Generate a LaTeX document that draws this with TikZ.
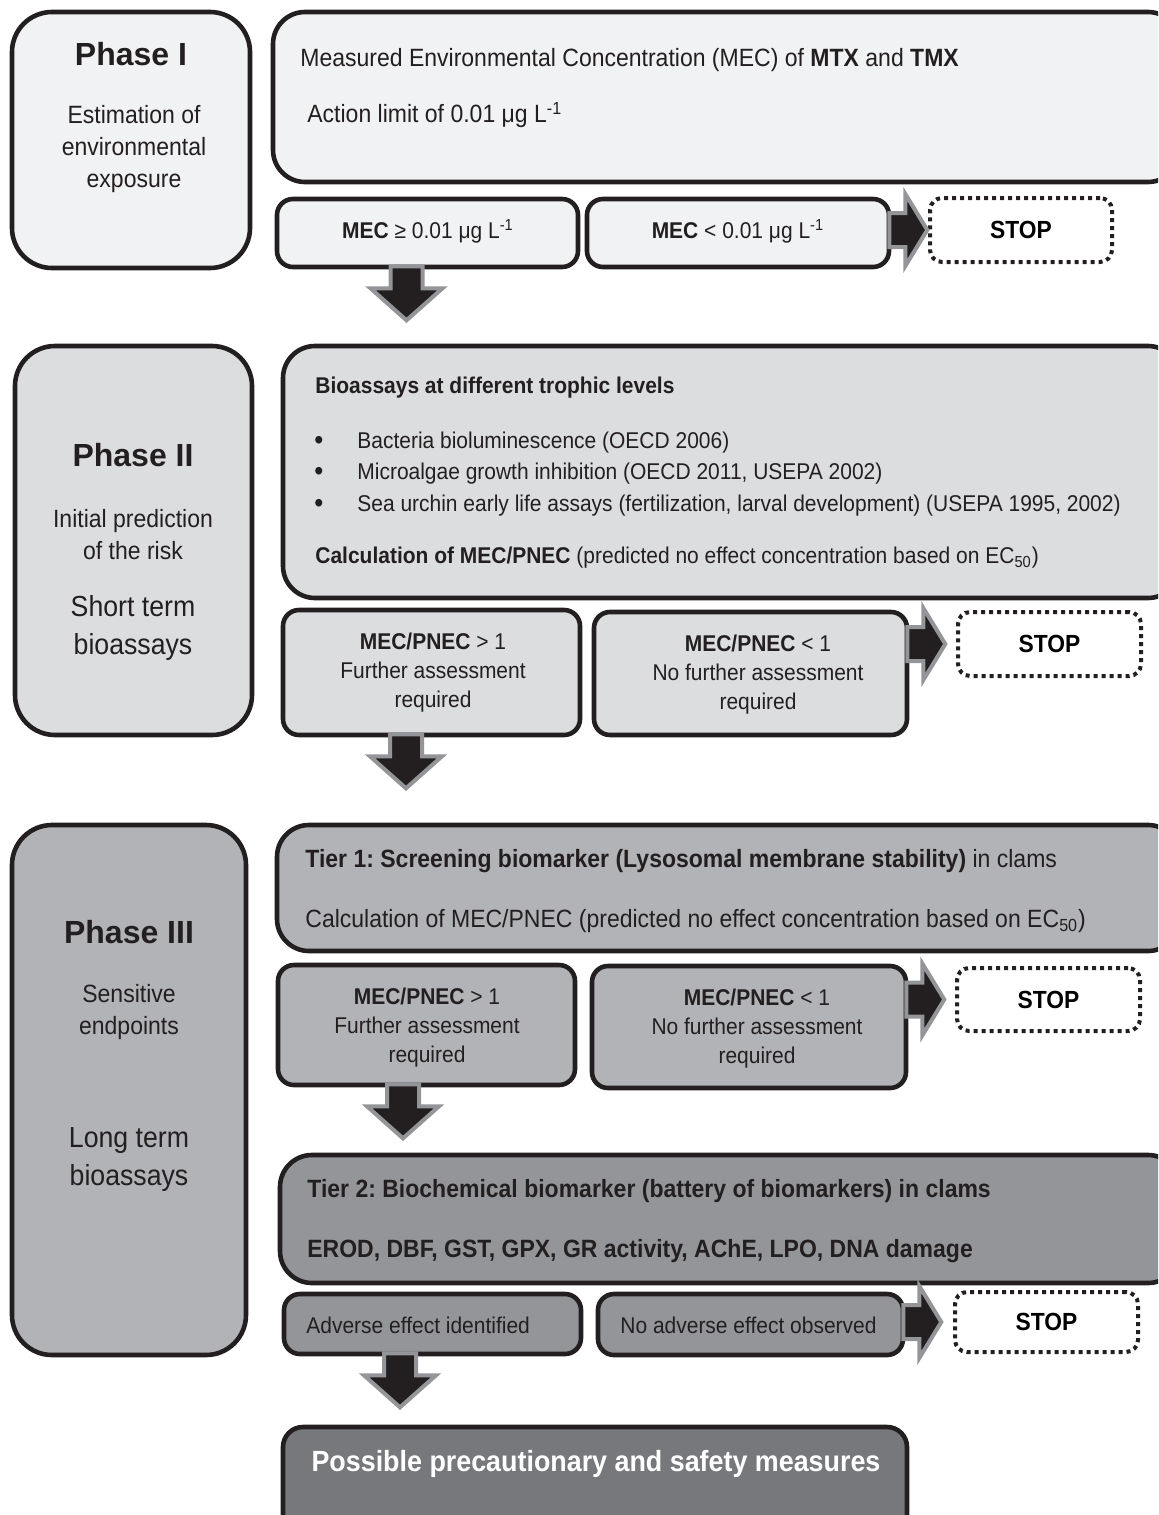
\documentclass[tikz,border=0pt]{standalone}
\usepackage{fontspec}
\setmainfont[FakeStretch=0.92]{Liberation Sans}
\newfontfamily\phasefont{Liberation Sans}
\usetikzlibrary{calc}
\frenchspacing
\definecolor{bd}{HTML}{231F20}
\definecolor{cA}{HTML}{F1F2F3}
\definecolor{cB}{HTML}{DCDDDF}
\definecolor{cC}{HTML}{B1B3B6}
\definecolor{cD}{HTML}{939598}
\definecolor{cE}{HTML}{77787B}
\definecolor{agray}{HTML}{939598}
\newcommand\fsmain{\fontsize{12.5pt}{15pt}\selectfont}
\newcommand\fsbio{\fontsize{11.4pt}{14pt}\selectfont}
\newcommand\fssmall{\fontsize{11.4pt}{14.5pt}\selectfont}
\newcommand\fsphase{\phasefont\fontsize{16pt}{19pt}\selectfont\bfseries}
\newcommand\fssub{\fontsize{12.5pt}{16pt}\selectfont}
\newcommand\fsbig{\fontsize{14.5pt}{19pt}\selectfont}
\newcommand\fsstop{\fontsize{12.4pt}{16pt}\selectfont\bfseries}
\newcommand\dnarrow[1]{\draw[fatarrow] #1 ++(-16,0) -- ++(32,0) -- ++(0,22) -- ++(20,0) -- ++(-36,32) -- ++(-36,-32) -- ++(20,0) -- cycle;}
\newcommand\rtarrow[1]{\draw[fatarrow] #1 ++(0,-17) -- ++(16,0) -- ++(0,-19) -- ++(22,36) -- ++(-22,36) -- ++(0,-19) -- ++(-16,0) -- cycle;}
\begin{document}
\begin{tikzpicture}[x=0.5pt,y=-0.5pt,
  box/.style={draw=bd, line width=2.3pt, rounded corners=8pt, inner sep=0pt, rectangle},
  bigbox/.style={box, rounded corners=16pt},
  stopbox/.style={draw=bd, line width=2pt, dash pattern=on 2pt off 2pt, rounded corners=6pt, fill=white, inner sep=0pt, rectangle, font=\fsstop},
  fatarrow/.style={fill=bd, draw=agray, line width=2pt, line join=miter},
  txt/.style={inner sep=0pt, anchor=west, text=bd, yshift=-1pt},
  ctxt/.style={inner sep=0pt, align=center, text=bd, yshift=-1pt}]
\useasboundingbox (0,0) rectangle (1158,1515);
\clip (0,0) rectangle (1158,1515);

% ---------- Phase I ----------
\node[bigbox, fill=cA, rounded corners=20pt, minimum width=119pt, minimum height=128pt] (p1) at (131,140) {};
\node[bigbox, fill=cA, minimum width=453.5pt, minimum height=85pt] (mec) at (726.5,97) {};
\node[box, fill=cA, minimum width=150.5pt, minimum height=34pt] (mecge) at (427.5,233) {};
\node[box, fill=cA, minimum width=151pt, minimum height=34pt] (meclt) at (738,233) {};
\node[stopbox, minimum width=91pt, minimum height=32pt] (stop1) at (1021,230) {STOP};

\node[ctxt, font=\fsphase] (p1t) at (131,52) {Phase I};
\node[ctxt, font=\fssub] (p1s) at (134,147) {Estimation of\\environmental\\exposure};
\node[txt, font=\fsmain] (mec1) at (300,58) {Measured Environmental Concentration (MEC) of \textbf{MTX} and \textbf{TMX}};
\node[txt, font=\fsmain] (mec2) at (307,113) {Action limit of 0.01 μg L\textsuperscript{-1}};
\node[ctxt, font=\fssmall] (mecget) at (428,229) {\textbf{MEC} ≥ 0.01 μg L\textsuperscript{-1}};
\node[ctxt, font=\fssmall] (meclet) at (738,229) {\textbf{MEC} < 0.01 μg L\textsuperscript{-1}};

\rtarrow{($(meclt.east |- stop1.west)+(-2,0)$)}
\dnarrow{($(mecge.south)+(-21,-3)$)}

% ---------- Phase II ----------
\node[bigbox, fill=cB, rounded corners=20pt, minimum width=118.5pt, minimum height=194.5pt] (p2) at (133.5,540.5) {};
\node[bigbox, fill=cB, minimum width=448.5pt, minimum height=126pt] (bio) at (731.5,472) {};
\node[box, fill=cB, minimum width=148.5pt, minimum height=62.5pt] (pg1) at (431.5,672.5) {};
\node[box, fill=cB, minimum width=156.5pt, minimum height=61.5pt] (pl1) at (750.5,673.5) {};
\node[stopbox, minimum width=91.5pt, minimum height=32pt] (stop2) at (1049.5,644) {STOP};

\node[ctxt, font=\fsphase] (p2t) at (133,453) {Phase II};
\node[ctxt, font=\fssub] (p2s) at (133,533) {Initial prediction\\of the risk};
\node[ctxt, font=\fsbig] (p2b) at (133,626) {Short term\\bioassays};
\node[txt, font=\fsbio\bfseries] (bio1) at (315,386) {Bioassays at different trophic levels};
\node[txt, font=\fontsize{14pt}{14pt}\selectfont] (bu1) at (314,441) {•};
\node[txt, font=\fontsize{14pt}{14pt}\selectfont] (bu2) at (314,472) {•};
\node[txt, font=\fontsize{14pt}{14pt}\selectfont] (bu3) at (314,504) {•};
\node[txt, font=\fsbio] (bio2) at (357,441) {Bacteria bioluminescence (OECD 2006)};
\node[txt, font=\fsbio] (bio3) at (357,472) {Microalgae growth inhibition (OECD 2011, USEPA 2002)};
\node[txt, font=\fsbio] (bio4) at (357,504) {Sea urchin early life assays (fertilization, larval development) (USEPA 1995, 2002)};
\node[txt, font=\fsbio] (bio5) at (315,556) {\textbf{Calculation of MEC/PNEC} (predicted no effect concentration based on EC\textsubscript{50})};
\node[ctxt, font=\fssmall] (pg1t) at (433,671) {\textbf{MEC/PNEC} > 1\\Further assessment\\required};
\node[ctxt, font=\fssmall] (pl1t) at (758,673) {\textbf{MEC/PNEC} < 1\\No further assessment\\required};

\rtarrow{($(pl1.east |- stop2.west)+(-2,0)$)}
\dnarrow{($(pg1.south)+(-25.5,-3)$)}

% ---------- Phase III ----------
\node[bigbox, fill=cC, rounded corners=20pt, minimum width=117pt, minimum height=265pt] (p3) at (129,1090) {};
\node[bigbox, fill=cC, minimum width=451.5pt, minimum height=63pt] (t1) at (728.5,888) {};
\node[box, fill=cC, minimum width=148.5pt, minimum height=60pt] (pg2) at (426.5,1025) {};
\node[box, fill=cC, minimum width=157pt, minimum height=61pt] (pl2) at (749,1027) {};
\node[stopbox, minimum width=91.5pt, minimum height=31.5pt] (stop3) at (1048.5,999.5) {STOP};
\node[bigbox, fill=cD, minimum width=450pt, minimum height=64pt] (t2) at (730,1219) {};
\node[box, fill=cD, minimum width=148.5pt, minimum height=30pt] (adv) at (432.5,1324) {};
\node[box, fill=cD, minimum width=152.5pt, minimum height=30.5pt] (noadv) at (750.5,1324.5) {};
\node[stopbox, minimum width=91.5pt, minimum height=30pt] (stop4) at (1046.5,1322) {STOP};
\node[box, fill=cE, rounded corners=10pt, minimum width=312pt, minimum height=56.5pt] (final) at (595,1483.5) {};

\node[ctxt, font=\fsphase] (p3t) at (129,930) {Phase III};
\node[ctxt, font=\fssub] (p3s) at (129,1010) {Sensitive\\endpoints};
\node[ctxt, font=\fsbig] (p3b) at (129,1158) {Long term\\bioassays};
\node[txt, font=\fsmain] (t1a) at (305,859) {\textbf{Tier 1: Screening biomarker (Lysosomal membrane stability)} in clams};
\node[txt, font=\fsmain] (t1b) at (305,919) {Calculation of MEC/PNEC (predicted no effect concentration based on EC\textsubscript{50})};
\node[ctxt, font=\fssmall] (pg2t) at (427,1026) {\textbf{MEC/PNEC} > 1\\Further assessment\\required};
\node[ctxt, font=\fssmall] (pl2t) at (757,1027) {\textbf{MEC/PNEC} < 1\\No further assessment\\required};
\node[txt, font=\fsmain\bfseries] (t2a) at (307,1189) {Tier 2: Biochemical biomarker (battery of biomarkers) in clams};
\node[txt, font=\fsmain\bfseries] (t2b) at (307,1249) {EROD, DBF, GST, GPX, GR activity, AChE, LPO, DNA damage};
\node[txt, font=\fssmall] (advt) at (306,1323) {Adverse effect identified};
\node[txt, font=\fssmall] (noadvt) at (620,1323) {No adverse effect observed};
\node[ctxt, font=\fontsize{14.6pt}{18pt}\selectfont\bfseries, text=white] (finalt) at (596,1462) {Possible precautionary and safety measures};

\rtarrow{($(pl2.east |- stop3.west)+(-2,0)$)}
\dnarrow{($(pg2.south)+(-23.5,-3)$)}
\rtarrow{($(noadv.east |- stop4.west)+(-2,0)$)}
\dnarrow{($(adv.south)+(-32.5,-3)$)}
\end{tikzpicture}
\end{document}
